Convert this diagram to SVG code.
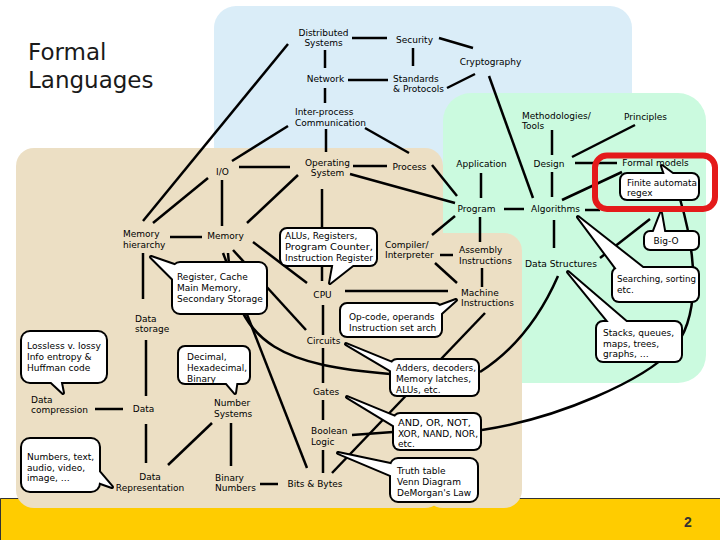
<svg xmlns="http://www.w3.org/2000/svg" xmlns:xlink="http://www.w3.org/1999/xlink" width="720" height="540" viewBox="0 0 720 540">
<style>
  .t { font-family: "DejaVu Sans", Verdana, sans-serif; font-size: 9px; fill: #000; }
  .m { text-anchor: middle; }
  .title { font-family: "DejaVu Sans", Verdana, sans-serif; font-size: 23px; fill: #1a1a1a; }
  .cn path { fill: none; stroke: #000; stroke-width: 2.5; }
  .cs { fill: none; stroke: #000; stroke-width: 4; stroke-linejoin: round; }
  .cf { fill: #fff; stroke: none; }
</style>
<defs>
  <g id="s-finite"><rect x="621" y="174" width="77" height="25" rx="6"/><polygon points="662,166 666,178 678,178"/></g>
  <g id="s-bigo"><rect x="645" y="232" width="53" height="17" rx="5"/><polygon points="661,213 652,236 665,236"/></g>
  <g id="s-search"><rect x="613" y="268" width="85" height="33" rx="6"/><polygon points="578,217 619,272 648,272"/></g>
  <g id="s-stacks"><rect x="597" y="322" width="84" height="39" rx="6"/><polygon points="568,272 612,326 631,326"/></g>
  <g id="s-alu"><rect x="281" y="229" width="95" height="36" rx="6"/><polygon points="330,283 334,261 358,261"/></g>
  <g id="s-reg"><rect x="173" y="263" width="93" height="50" rx="7"/><polygon points="151,257 177,266 177,283"/></g>
  <g id="s-opcode"><rect x="341" y="304" width="100" height="32" rx="6"/><polygon points="456,300 437,307 437,317"/></g>
  <g id="s-adders"><rect x="391" y="360" width="87" height="35" rx="6"/><polygon points="346,344 395,364 395,373"/></g>
  <g id="s-and"><rect x="394" y="414" width="86" height="35" rx="6"/><polygon points="347,397 398,418 398,428"/></g>
  <g id="s-truth"><rect x="391" y="459" width="86" height="42" rx="7"/><polygon points="338,453 395,465 395,477"/></g>
  <g id="s-lossless"><rect x="22" y="332" width="84" height="50" rx="8"/><polygon points="63,393 47,378 60,378"/></g>
  <g id="s-decimal"><rect x="179" y="347" width="70" height="36" rx="6"/><polygon points="235,393 223,379 237,379"/></g>
  <g id="s-numbers"><rect x="22" y="439" width="77" height="52" rx="8"/><polygon points="112,487 95,467 95,481"/></g>
</defs>

<!-- background -->
<rect x="0" y="0" width="720" height="540" fill="#fff"/>
<rect x="0" y="498" width="720" height="42" fill="#ffcc00"/>
<path d="M0.5 540 V498.5 H720" fill="none" stroke="#333" stroke-width="1"/>
<g id="regions">
  <rect x="214" y="6" width="418" height="170" rx="22" fill="#daedf8"/>
  <rect x="443" y="93" width="263" height="290" rx="28" fill="#cbfadf"/>
  <rect x="16" y="148" width="427" height="360" rx="18" fill="#ecdfc4"/>
  <rect x="425" y="233" width="97" height="275" rx="18" fill="#ecdfc4"/>
</g>

<text class="title" x="28" y="60">Formal</text>
<text class="title" x="28" y="88">Languages</text>

<g class="cn" id="connectors">
  <path d="M352 38 H387"/>
  <path d="M325 50 V68"/>
  <path d="M325 88 V103"/>
  <path d="M326 129 V152"/>
  <path d="M348 80 H388"/>
  <path d="M413 48 V66"/>
  <path d="M439 38 L473 48"/>
  <path d="M447 88 L475 74"/>
  <path d="M489 76 L533 198"/>
  <path d="M288 44 L143 221"/>
  <path d="M288 126 L232 161"/>
  <path d="M239 167 H290"/>
  <path d="M208 178 L153 223"/>
  <path d="M222 180 V226"/>
  <path d="M298 175 L247 223"/>
  <path d="M353 166 H387"/>
  <path d="M350 174 L455 203"/>
  <path d="M365 128 L409 153"/>
  <path d="M432 165 L457 196"/>
  <path d="M481 173 V198"/>
  <path d="M504 209 H524"/>
  <path d="M552 130 V155"/>
  <path d="M572 157 L635 125"/>
  <path d="M575 163 H617"/>
  <path d="M552 172 V197"/>
  <path d="M562 200 L622 172"/>
  <path d="M585 210 H600"/>
  <path d="M554 220 V248"/>
  <path d="M600 258 L650 219"/>
  <path d="M455 216 L432 235"/>
  <path d="M480 217 V242"/>
  <path d="M440 255 H453"/>
  <path d="M435 263 L457 283"/>
  <path d="M482 268 V287"/>
  <path d="M345 291 H448"/>
  <path d="M322 189 V281"/>
  <path d="M170 237 H202"/>
  <path d="M143 253 V299"/>
  <path d="M253 242 L307 283"/>
  <path d="M233 250 L306 330"/>
  <path d="M223 253 L307 468"/>
  <path d="M228 253 C235 350 290 365 390 374"/>
  <path d="M323 305 V335"/>
  <path d="M323 348 V383"/>
  <path d="M323 400 V420"/>
  <path d="M323 450 V473"/>
  <path d="M485 313 L332 473"/>
  <path d="M352 435 L393 432"/>
  <path d="M558 276 Q530 340 480 372"/>
  <path d="M680 199 C698 260 700 320 672 350 C644 380 560 418 482 430"/>
  <path d="M146 340 V396"/>
  <path d="M95 409 H123"/>
  <path d="M146 424 V463"/>
  <path d="M168 465 L212 423"/>
  <path d="M231 423 V466"/>
  <path d="M260 484 H278"/>
</g>

<!-- callouts -->
<g id="finite"><use xlink:href="#s-finite" class="cs"/><use xlink:href="#s-finite" class="cf"/>
  <text class="t" x="627" y="185.5" textLength="70" lengthAdjust="spacingAndGlyphs">Finite automata</text>
  <text class="t" x="627" y="196">regex</text></g>
<g id="bigo"><use xlink:href="#s-bigo" class="cs"/><use xlink:href="#s-bigo" class="cf"/>
  <text class="t m" x="666" y="244">Big-O</text></g>
<g id="search"><use xlink:href="#s-search" class="cs"/><use xlink:href="#s-search" class="cf"/>
  <text class="t" x="617" y="282" textLength="79" lengthAdjust="spacingAndGlyphs">Searching, sorting</text>
  <text class="t" x="617" y="292.5">etc.</text></g>
<g id="stacks"><use xlink:href="#s-stacks" class="cs"/><use xlink:href="#s-stacks" class="cf"/>
  <text class="t" x="603" y="336">Stacks, queues,</text>
  <text class="t" x="603" y="346.5">maps, trees,</text>
  <text class="t" x="603" y="357">graphs, …</text></g>
<g id="alu"><use xlink:href="#s-alu" class="cs"/><use xlink:href="#s-alu" class="cf"/>
  <text class="t" x="285" y="239">ALUs, Registers,</text>
  <text class="t" x="285" y="250" textLength="88" lengthAdjust="spacingAndGlyphs">Program Counter,</text>
  <text class="t" x="285" y="261" textLength="88" lengthAdjust="spacingAndGlyphs">Instruction Register</text></g>
<g id="reg"><use xlink:href="#s-reg" class="cs"/><use xlink:href="#s-reg" class="cf"/>
  <text class="t" x="177" y="280">Register, Cache</text>
  <text class="t" x="177" y="291">Main Memory,</text>
  <text class="t" x="177" y="302">Secondary Storage</text></g>
<g id="opcode"><use xlink:href="#s-opcode" class="cs"/><use xlink:href="#s-opcode" class="cf"/>
  <text class="t" x="349" y="320">Op-code, operands</text>
  <text class="t" x="349" y="330.5">Instruction set arch</text></g>
<g id="adders"><use xlink:href="#s-adders" class="cs"/><use xlink:href="#s-adders" class="cf"/>
  <text class="t" x="396" y="371" textLength="80" lengthAdjust="spacingAndGlyphs">Adders, decoders,</text>
  <text class="t" x="396" y="382" textLength="75" lengthAdjust="spacingAndGlyphs">Memory latches,</text>
  <text class="t" x="396" y="393">ALUs, etc.</text></g>
<g id="andor"><use xlink:href="#s-and" class="cs"/><use xlink:href="#s-and" class="cf"/>
  <text class="t" x="398" y="426" textLength="73" lengthAdjust="spacingAndGlyphs">AND, OR, NOT,</text>
  <text class="t" x="398" y="436.5" textLength="80" lengthAdjust="spacingAndGlyphs">XOR, NAND, NOR,</text>
  <text class="t" x="398" y="447">etc.</text></g>
<g id="truth"><use xlink:href="#s-truth" class="cs"/><use xlink:href="#s-truth" class="cf"/>
  <text class="t" x="397" y="474">Truth table</text>
  <text class="t" x="397" y="485">Venn Diagram</text>
  <text class="t" x="397" y="496">DeMorgan's Law</text></g>
<g id="lossless"><use xlink:href="#s-lossless" class="cs"/><use xlink:href="#s-lossless" class="cf"/>
  <text class="t" x="27" y="349" textLength="74" lengthAdjust="spacingAndGlyphs">Lossless v. lossy</text>
  <text class="t" x="27" y="360">Info entropy &amp;</text>
  <text class="t" x="27" y="371">Huffman code</text></g>
<g id="decimal"><use xlink:href="#s-decimal" class="cs"/><use xlink:href="#s-decimal" class="cf"/>
  <text class="t" x="187" y="360">Decimal,</text>
  <text class="t" x="187" y="371" textLength="60" lengthAdjust="spacingAndGlyphs">Hexadecimal,</text>
  <text class="t" x="187" y="382">Binary</text></g>
<g id="numbers"><use xlink:href="#s-numbers" class="cs"/><use xlink:href="#s-numbers" class="cf"/>
  <text class="t" x="27" y="460">Numbers, text,</text>
  <text class="t" x="27" y="470.5">audio, video,</text>
  <text class="t" x="27" y="481">image, …</text></g>

<!-- plain label nodes -->
<g id="distributed"><text class="t m" x="323.5" y="35.5">Distributed</text><text class="t m" x="323.5" y="45.5">Systems</text></g>
<g id="security"><text class="t m" x="414.5" y="43.3">Security</text></g>
<g id="network"><text class="t m" x="325.5" y="81.5">Network</text></g>
<g id="standards"><text class="t" x="393" y="81.5">Standards</text><text class="t" x="393" y="92.3">&amp; Protocols</text></g>
<g id="crypto"><text class="t m" x="490.5" y="65">Cryptography</text></g>
<g id="ipc"><text class="t" x="295" y="115">Inter-process</text><text class="t" x="295" y="126">Communication</text></g>
<g id="methodologies"><text class="t" x="522" y="119">Methodologies/</text><text class="t" x="522" y="129.3">Tools</text></g>
<g id="principles"><text class="t m" x="645.5" y="119.6">Principles</text></g>
<g id="os"><text class="t m" x="327.5" y="165.6">Operating</text><text class="t m" x="327.5" y="176">System</text></g>
<g id="io"><text class="t m" x="222.5" y="175">I/O</text></g>
<g id="process"><text class="t m" x="409.5" y="170">Process</text></g>
<g id="application"><text class="t m" x="481.5" y="166.6">Application</text></g>
<g id="design"><text class="t m" x="549" y="166.6">Design</text></g>
<g id="formal"><text class="t m" x="655.5" y="166">Formal models</text></g>
<g id="program"><text class="t m" x="476.5" y="212.3">Program</text></g>
<g id="algorithms"><text class="t m" x="555.5" y="212.3">Algorithms</text></g>
<g id="datastructures"><text class="t m" x="561" y="266.6" textLength="72" lengthAdjust="spacingAndGlyphs">Data Structures</text></g>
<g id="memory"><text class="t m" x="225.5" y="239.3">Memory</text></g>
<g id="memhier"><text class="t" x="123" y="237.3">Memory</text><text class="t" x="123" y="248.3">hierarchy</text></g>
<g id="compiler"><text class="t" x="385" y="248.3">Compiler/</text><text class="t" x="385" y="258.3">Interpreter</text></g>
<g id="assembly"><text class="t" x="459" y="253.3">Assembly</text><text class="t" x="459" y="264.3">Instructions</text></g>
<g id="machine"><text class="t" x="461" y="296.3">Machine</text><text class="t" x="461" y="306">Instructions</text></g>
<g id="cpu"><text class="t m" x="322.5" y="298.3">CPU</text></g>
<g id="circuits"><text class="t m" x="323.5" y="344">Circuits</text></g>
<g id="gates"><text class="t m" x="326" y="395">Gates</text></g>
<g id="boolean"><text class="t" x="311" y="434.3">Boolean</text><text class="t" x="311" y="445">Logic</text></g>
<g id="bits"><text class="t m" x="315" y="487.3">Bits &amp; Bytes</text></g>
<g id="datastorage"><text class="t" x="135" y="321.6">Data</text><text class="t" x="135" y="331.6">storage</text></g>
<g id="datacomp"><text class="t" x="31" y="403.3">Data</text><text class="t" x="31" y="413.3">compression</text></g>
<g id="data"><text class="t m" x="143.5" y="412.3">Data</text></g>
<g id="datarep"><text class="t m" x="150" y="480">Data</text><text class="t m" x="150" y="490.6">Representation</text></g>
<g id="numsys"><text class="t" x="214" y="406">Number</text><text class="t" x="214" y="417.3">Systems</text></g>
<g id="binary"><text class="t" x="215" y="481">Binary</text><text class="t" x="215" y="491">Numbers</text></g>

<!-- highlight -->
<rect id="highlight" x="595" y="155.5" width="120" height="53.5" rx="12" fill="none" stroke="#e41a1a" stroke-width="6"/>

<text x="688" y="527" text-anchor="middle" font-family="Liberation Sans, Arial, sans-serif" font-size="14" font-weight="bold" fill="#333">2</text>
</svg>
